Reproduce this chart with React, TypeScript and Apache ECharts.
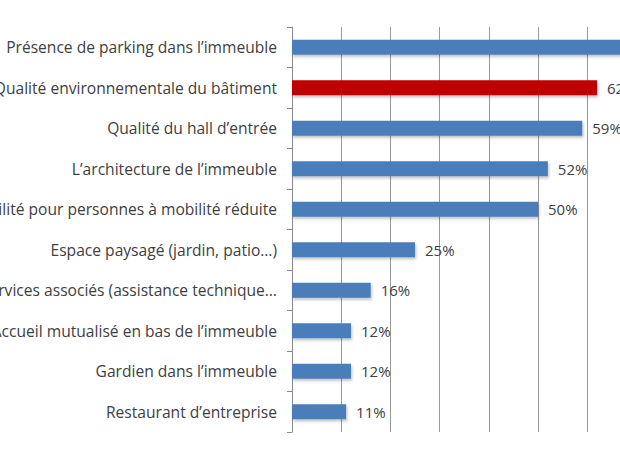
import React, { useEffect, useRef } from "react";
import * as echarts from "echarts";

const categories = [
  "Présence de parking dans l’immeuble",
  "Qualité environnementale du bâtiment",
  "Qualité du hall d’entrée",
  "L’architecture de l’immeuble",
  "Accessibilité pour personnes à mobilité réduite",
  "Espace paysagé (jardin, patio…)",
  "Services associés (assistance technique…",
  "Accueil mutualisé en bas de l’immeuble",
  "Gardien dans l’immeuble",
  "Restaurant d’entreprise",
];
const values = [73, 62, 59, 52, 50, 25, 16, 12, 12, 11];
const highlightIndex = 1;
const xTicks = { min: 0, max: 80, interval: 10 };

const BLUE = "#4a7ebb";
const RED = "#c00000";
const FONT = "Open Sans";

export default function App() {
  const ref = useRef<HTMLDivElement>(null);
  useEffect(() => {
    if (!ref.current) return;
    const chart = echarts.init(ref.current, undefined, { renderer: "svg" });
    chart.setOption({
      animation: false,
      backgroundColor: "#ffffff",
      grid: {
        left: 292,
        top: 27,
        bottom: 33,
        width: 393.6,
        containLabel: false,
        outerBoundsMode: "none",
      },
      xAxis: {
        type: "value",
        min: xTicks.min,
        max: xTicks.max,
        interval: xTicks.interval,
        axisLine: { show: false },
        axisTick: { show: false },
        axisLabel: { show: false },
        splitLine: { show: true, lineStyle: { color: "#999999", width: 1 } },
      },
      yAxis: {
        type: "category",
        inverse: true,
        data: categories,
        axisLine: { show: true, lineStyle: { color: "#8a8a8a", width: 1 } },
        axisTick: { show: true, length: 5, lineStyle: { color: "#8a8a8a" } },
        axisLabel: {
          margin: 15,
          color: "#404040",
          fontFamily: FONT,
          fontSize: 15.6,
        },
      },
      series: [
        {
          type: "bar",
          data: values.map((v, i) => ({
            value: v,
            itemStyle: { color: i === highlightIndex ? RED : BLUE },
          })),
          barWidth: 15,
          itemStyle: {
            shadowBlur: 3,
            shadowOffsetX: 1,
            shadowOffsetY: 2,
            shadowColor: "rgba(0,0,0,0.25)",
          },
          label: {
            show: true,
            position: "right",
            distance: 10,
            formatter: "{c}%",
            color: "#404040",
            fontFamily: FONT,
            fontSize: 15,
          },
        },
      ],
    });
    return () => chart.dispose();
  }, []);
  return (
    <div
      style={{
        position: "fixed",
        left: 0,
        top: 0,
        width: 620,
        height: 465,
        overflow: "hidden",
        background: "#ffffff",
      }}
    >
      <div ref={ref} style={{ width: 800, height: 465 }} />
    </div>
  );
}
